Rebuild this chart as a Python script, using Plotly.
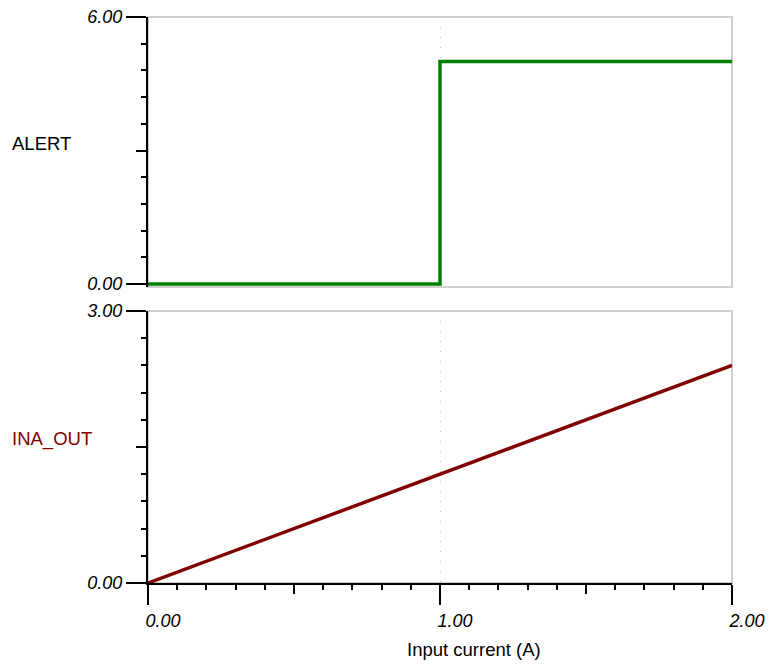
import plotly.graph_objects as go

# ---- data ----
alert_current = [0.0, 1.0, 2.0]          # Input current (A)
alert_volts = [0.0, 5.0, 5.0]            # ALERT (step, held after each point)
ina_current = [0.0, 2.0]                 # Input current (A)
ina_volts = [0.0, 2.4]                   # INA_OUT
x_tick_vals = [0.0, 1.0, 2.0]
x_tick_text = ["0.00", "1.00", "2.00"]
alert_tick_vals = [0.0, 6.0]
alert_tick_text = ["0.00", "6.00"]
ina_tick_vals = [0.0, 3.0]
ina_tick_text = ["0.00", "3.00"]

GREEN = "#008000"
DARKRED = "#800000"
GRAY = "#cfcfcf"
FONT = "Liberation Sans, Arial, sans-serif"
tickfont = dict(family=FONT, size=18, color="black", style="italic")

fig = go.Figure()
fig.add_trace(go.Scatter(x=alert_current, y=alert_volts, mode="lines",
                         line=dict(color=GREEN, width=3.5, shape="hv"),
                         xaxis="x", yaxis="y", hoverinfo="skip"))
fig.add_trace(go.Scatter(x=ina_current, y=ina_volts, mode="lines",
                         line=dict(color=DARKRED, width=3.5),
                         xaxis="x2", yaxis="y2", hoverinfo="skip"))
# empty traces to make the overlay (medium-tick) axes render
fig.add_trace(go.Scatter(x=[], y=[], xaxis="x", yaxis="y3", hoverinfo="skip"))
fig.add_trace(go.Scatter(x=[], y=[], xaxis="x2", yaxis="y4", hoverinfo="skip"))
fig.add_trace(go.Scatter(x=[], y=[], xaxis="x3", yaxis="y2", hoverinfo="skip"))

top_dom = [0.523, 1.0]
bot_dom = [0.0, 0.4806]
top_range = [-0.067, 6.0]
bot_range = [0.0, 3.0]
x_range = [0.0, 2.0]

grid = dict(showgrid=True, gridcolor="#bdbdbd", gridwidth=1, griddash="1px,9px")

fig.update_layout(
    width=769, height=667,
    margin=dict(l=148, r=37, t=17, b=84),
    paper_bgcolor="white", plot_bgcolor="white",
    showlegend=False,
    xaxis=dict(domain=[0, 1], anchor="y", range=x_range, tickmode="array",
               tickvals=[1.0], showticklabels=False, ticks="", showline=False,
               zeroline=False, automargin=False, **grid),
    yaxis=dict(domain=top_dom, anchor="x", range=top_range, tickmode="array",
               tickvals=alert_tick_vals, ticktext=alert_tick_text,
               ticks="outside", ticklen=20, tickwidth=2, tickcolor="black",
               showline=True, linecolor="black", linewidth=2, showgrid=False,
               zeroline=False, tickfont=tickfont, ticklabelstandoff=0,
               automargin=False,
               minor=dict(tickmode="linear", tick0=0, dtick=0.6, ticks="outside",
                          ticklen=5, tickwidth=2, tickcolor="black")),
    yaxis3=dict(overlaying="y", anchor="x", range=top_range, tickmode="array",
                tickvals=[3.0], ticks="outside", ticklen=11, tickwidth=2,
                tickcolor="black", showticklabels=False, showline=False,
                showgrid=False, zeroline=False, automargin=False),
    xaxis2=dict(domain=[0, 1], anchor="y2", range=x_range, tickmode="array",
                tickvals=x_tick_vals, ticktext=x_tick_text, ticks="outside",
                ticklen=20, tickwidth=2, tickcolor="black", showline=True,
                linecolor="black", linewidth=2, zeroline=False,
                tickfont=tickfont, ticklabelshift=15, ticklabelstandoff=0,
                automargin=False,
                minor=dict(tickmode="linear", tick0=0, dtick=0.1, ticks="outside",
                           ticklen=5, tickwidth=2, tickcolor="black"),
                **grid),
    xaxis3=dict(overlaying="x2", anchor="y2", range=x_range, tickmode="array",
                tickvals=[0.5, 1.5], ticks="outside", ticklen=10, tickwidth=2,
                tickcolor="black", showticklabels=False, showline=False,
                showgrid=False, zeroline=False, automargin=False),
    yaxis2=dict(domain=bot_dom, anchor="x2", range=bot_range, tickmode="array",
                tickvals=ina_tick_vals, ticktext=ina_tick_text, ticks="outside",
                ticklen=20, tickwidth=2, tickcolor="black", showline=True,
                linecolor="black", linewidth=2, showgrid=False, zeroline=False,
                tickfont=tickfont, ticklabelstandoff=0, automargin=False,
                minor=dict(tickmode="linear", tick0=0, dtick=0.3, ticks="outside",
                           ticklen=5, tickwidth=2, tickcolor="black")),
    yaxis4=dict(overlaying="y2", anchor="x2", range=bot_range, tickmode="array",
                tickvals=[1.5], ticks="outside", ticklen=11, tickwidth=2,
                tickcolor="black", showticklabels=False, showline=False,
                showgrid=False, zeroline=False, automargin=False),
)

# panel frames (light gray)
for xr, yr in (("x domain", "y domain"), ("x2 domain", "y2 domain")):
    fig.add_shape(type="rect", xref=xr, yref=yr, x0=0, x1=1, y0=0, y1=1,
                  line=dict(color=GRAY, width=2), layer="below")

labfont = dict(family=FONT, size=18.5)
fig.add_annotation(text="ALERT", xref="paper", yref="y domain", x=-0.236, y=0.53,
                   xanchor="left", yanchor="middle", showarrow=False,
                   font=dict(color="black", **labfont))
fig.add_annotation(text="INA_OUT", xref="paper", yref="y2 domain", x=-0.236, y=0.529,
                   xanchor="left", yanchor="middle", showarrow=False,
                   font=dict(color=DARKRED, **labfont))
fig.add_annotation(text="Input current (A)", xref="paper", yref="paper",
                   x=0.558, y=-0.118, xanchor="center", yanchor="middle",
                   showarrow=False, font=dict(color="black", **labfont))

fig.write_html("out.html",
               config={"displayModeBar": False, "staticPlot": True},
               post_script="document.body.style.margin='0';"
                           "document.body.style.overflow='hidden';")
